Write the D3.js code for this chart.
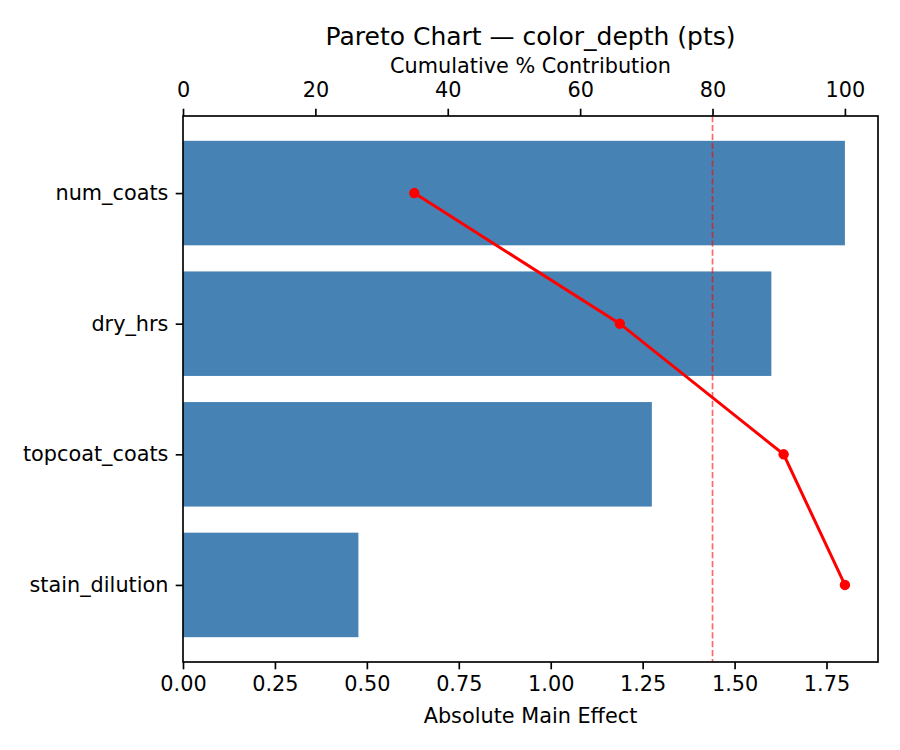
<!DOCTYPE html>
<html lang="en">
<head>
    <meta charset="UTF-8">
    <title>Pareto Chart</title>
    <script src="https://d3js.org/d3.v7.min.js"></script>
    <style>
        body { margin: 0; background: white; }
        svg { font-family: "DejaVu Sans", sans-serif; }
        .tick text { fill: black; }
        .tick line { stroke: black; stroke-width: 1.67; }
        .domain { display: none; }
    </style>
</head>
<body>
    <div id="chart"></div>
    <script>
        // factors, sorted by effect size
        const factors = ["num_coats", "dry_hrs", "topcoat_coats", "stain_dilution"];
        const effects = [1.80, 1.60, 1.275, 0.477];
        const effectTicks = [0, 0.25, 0.5, 0.75, 1.0, 1.25, 1.5, 1.75];
        const pctTicks = [0, 20, 40, 60, 80, 100];
        const threshold = 80;

        const total = d3.sum(effects);
        const cumPct = Array.from(d3.cumsum(effects)).map(v => v / total * 100);

        const width = 900, height = 750;
        const plotL = 183, plotR = 878, plotT = 116, plotB = 662;
        const fontPx = 20.8, tickLen = 7.3;

        const svg = d3.select("#chart").append("svg")
            .attr("width", width)
            .attr("height", height);

        const x = d3.scaleLinear()
            .domain([0, d3.max(effects) * 1.05])
            .range([plotL, plotR]);

        const xTop = d3.scaleLinear()
            .domain([0, 105])
            .range([plotL, plotR]);

        // matplotlib-like categorical axis: bars at 0..n-1, height 0.8, 5% margins
        const n = factors.length;
        const pad = (n - 1 + 0.8) * 0.05 + 0.4;
        const y = d3.scaleLinear()
            .domain([-pad, n - 1 + pad])
            .range([plotT, plotB]);
        const barH = y(0.8) - y(0);

        svg.selectAll(".bar")
            .data(effects)
            .enter().append("rect")
            .attr("class", "bar")
            .attr("x", x(0))
            .attr("y", (d, i) => y(i) - barH / 2)
            .attr("width", d => x(d) - x(0))
            .attr("height", barH)
            .attr("fill", "steelblue");

        // 80% reference line
        svg.append("line")
            .attr("x1", xTop(threshold))
            .attr("x2", xTop(threshold))
            .attr("y1", plotT)
            .attr("y2", plotB)
            .attr("stroke", "red")
            .attr("stroke-opacity", 0.6)
            .attr("stroke-width", 1.67)
            .attr("stroke-dasharray", "6.2,2.7");

        const line = d3.line()
            .x(d => xTop(d))
            .y((d, i) => y(i));

        svg.append("path")
            .datum(cumPct)
            .attr("d", line)
            .attr("fill", "none")
            .attr("stroke", "red")
            .attr("stroke-width", 3);

        svg.selectAll(".pt")
            .data(cumPct)
            .enter().append("circle")
            .attr("class", "pt")
            .attr("cx", d => xTop(d))
            .attr("cy", (d, i) => y(i))
            .attr("r", 5.2)
            .attr("fill", "red");

        // axes
        const bottomAxis = svg.append("g")
            .attr("transform", `translate(0,${plotB})`)
            .call(d3.axisBottom(x).tickValues(effectTicks)
                .tickFormat(d3.format(".2f")).tickSize(tickLen).tickPadding(tickLen));

        const topAxis = svg.append("g")
            .attr("transform", `translate(0,${plotT})`)
            .call(d3.axisTop(xTop).tickValues(pctTicks)
                .tickFormat(d3.format("d")).tickSize(tickLen).tickPadding(tickLen));
        topAxis.selectAll(".tick text").attr("dy", "-0.22em");

        const leftAxis = svg.append("g")
            .attr("transform", `translate(${plotL},0)`)
            .call(d3.axisLeft(y).tickValues(d3.range(n))
                .tickFormat(i => factors[i]).tickSize(tickLen).tickPadding(tickLen));

        [bottomAxis, topAxis, leftAxis].forEach(g => g
            .attr("font-family", "DejaVu Sans")
            .attr("font-size", fontPx));

        svg.append("rect")
            .attr("x", plotL)
            .attr("y", plotT)
            .attr("width", plotR - plotL)
            .attr("height", plotB - plotT)
            .attr("fill", "none")
            .attr("stroke", "black")
            .attr("stroke-width", 1.67);

        svg.append("text")
            .attr("x", (plotL + plotR) / 2)
            .attr("y", 45)
            .attr("text-anchor", "middle")
            .style("font-size", "25px")
            .text("Pareto Chart — color_depth (pts)");

        svg.append("text")
            .attr("x", (plotL + plotR) / 2)
            .attr("y", 73)
            .attr("text-anchor", "middle")
            .style("font-size", fontPx + "px")
            .text("Cumulative % Contribution");

        svg.append("text")
            .attr("x", (plotL + plotR) / 2)
            .attr("y", 723)
            .attr("text-anchor", "middle")
            .style("font-size", fontPx + "px")
            .text("Absolute Main Effect");
    </script>
</body>
</html>
